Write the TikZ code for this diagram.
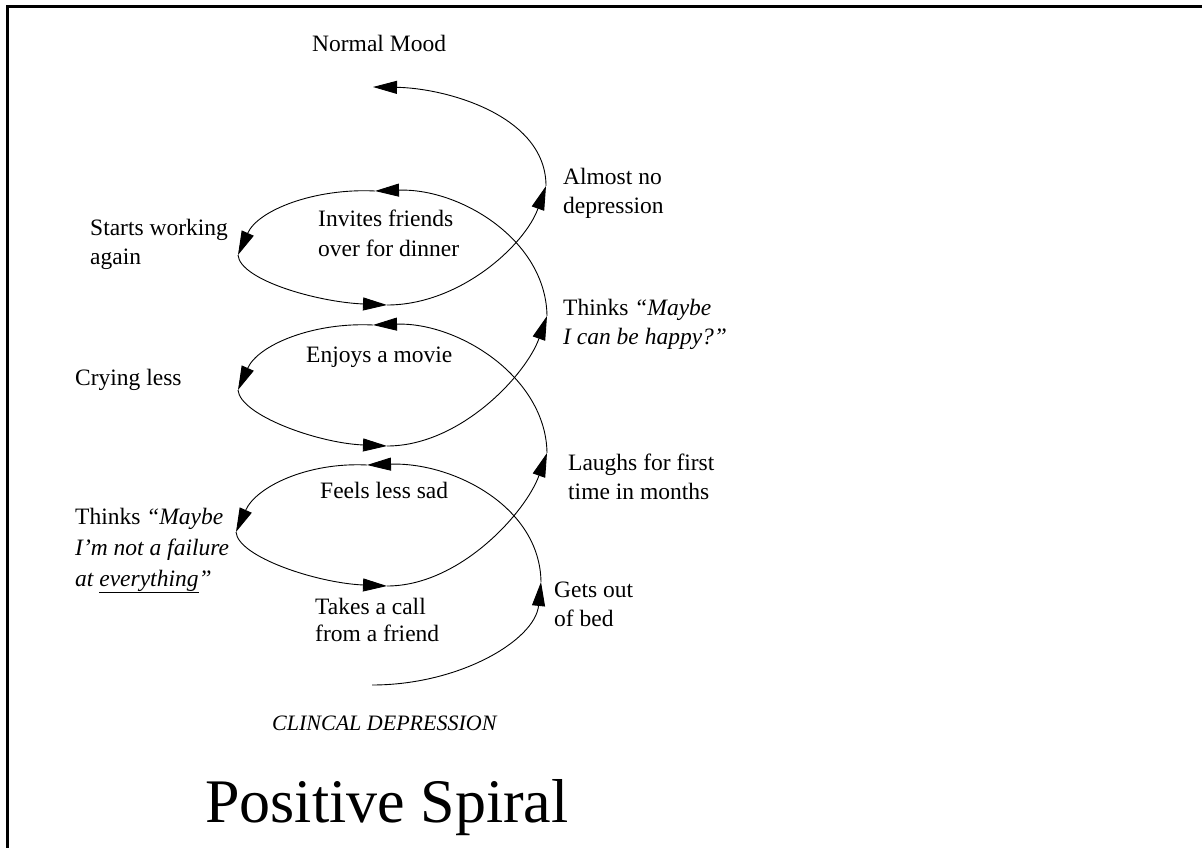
\documentclass[tikz,border=0pt]{standalone}
\usepackage{fontspec}
\setmainfont{Liberation Serif}
\usetikzlibrary{arrows.meta}
\begin{document}
\begin{tikzpicture}[x=1pt,y=-1pt,
  % multi-line labels are placed by the baseline of their last line
  lbl/.style={anchor=base west, inner sep=0pt, align=left,
              font=\fontsize{23.5}{29}\selectfont},
  spiral/.style={line width=0.9pt, -{Triangle[length=24pt,width=13pt]}},
  frame/.style={line width=3pt, line join=miter},
]
\useasboundingbox (0,0) rectangle (1202,848);
% slide frame (left and top edges)
\draw[frame] (7.5,848) -- (7.5,6.5) -- (1202,6.5);

% labels
\node[lbl] (normal) at (312,52) {Normal Mood};
\node[lbl] (almost) at (563,213) {Almost no\\depression};
\node[lbl] (starts) at (90,264) {Starts working\\again};
\node[lbl, font=\fontsize{23.5}{30}\selectfont] (invites) at (318,256) {Invites friends\\over for dinner};
\node[lbl] (happy) at (563,344) {Thinks \textit{“Maybe}\\\textit{I can be happy?”}};
\node[lbl] (movie) at (306,362) {Enjoys a movie};
\node[lbl] (crying) at (75,385) {Crying less};
\node[lbl] (laughs) at (568,499) {Laughs for first\\time in months};
\node[lbl] (sad) at (320,498) {Feels less sad};
\node[lbl, font=\fontsize{23.5}{31}\selectfont] (failure) at (75,586)
  {Thinks \textit{“Maybe}\\\textit{I’m not a failure}\\\textit{at \underline{everything}”}};
\node[lbl, font=\fontsize{23.5}{27}\selectfont] (call) at (315,641) {Takes a call\\from a friend};
\node[lbl] (bed) at (554,626) {Gets out\\of bed};
\node[anchor=base west, inner sep=0pt, font=\fontsize{22}{26}\selectfont\itshape]
  (clinical) at (272,730) {CLINCAL DEPRESSION};
\node[anchor=base west, inner sep=0pt, font=\fontsize{62}{70}\selectfont]
  (title) at (205,822) {Positive Spiral};

% spiral way points: r = right side, t = top middle, l = left side, m = bottom middle
\coordinate (s)  at (372,685);
\coordinate (r0) at (541,582);
\coordinate (t0) at (367,465);
\coordinate (l0) at (236,532);
\coordinate (m0) at (387,586);
\coordinate (r1) at (547,453);
\coordinate (t1) at (373,325);
\coordinate (l1) at (238,390);
\coordinate (m1) at (387,446);
\coordinate (r2) at (547,316);
\coordinate (t2) at (375,191);
\coordinate (l2) at (238,255);
\coordinate (m2) at (387,305);
\coordinate (r3) at (546,186);
\coordinate (t3) at (373,87);

% start from the bottom
\draw[spiral] (s) .. controls +(88,0) and +(-6,58) .. (r0);
% three turns
\draw[spiral] (r0) .. controls +(-1,-76) and +(85,-3) .. (t0);
\draw[spiral] (t0) .. controls +(-60,-3) and +(20,-45) .. (l0);
\draw[spiral] (l0) .. controls +(2,25) and +(-70,-3) .. (m0);
\draw[spiral] (m0) .. controls +(73,0) and +(-21,59) .. (r1);

\draw[spiral] (r1) .. controls +(-1,-76) and +(85,-3) .. (t1);
\draw[spiral] (t1) .. controls +(-60,-3) and +(20,-45) .. (l1);
\draw[spiral] (l1) .. controls +(2,25) and +(-70,-3) .. (m1);
\draw[spiral] (m1) .. controls +(73,0) and +(-21,59) .. (r2);

\draw[spiral] (r2) .. controls +(-1,-76) and +(85,-3) .. (t2);
\draw[spiral] (t2) .. controls +(-60,-3) and +(20,-45) .. (l2);
\draw[spiral] (l2) .. controls +(2,25) and +(-70,-3) .. (m2);
\draw[spiral] (m2) .. controls +(73,0) and +(-21,59) .. (r3);
% last rise to normal mood
\draw[spiral] (r3) .. controls +(0,-71) and +(72,1) .. (t3);
\end{tikzpicture}
\end{document}
